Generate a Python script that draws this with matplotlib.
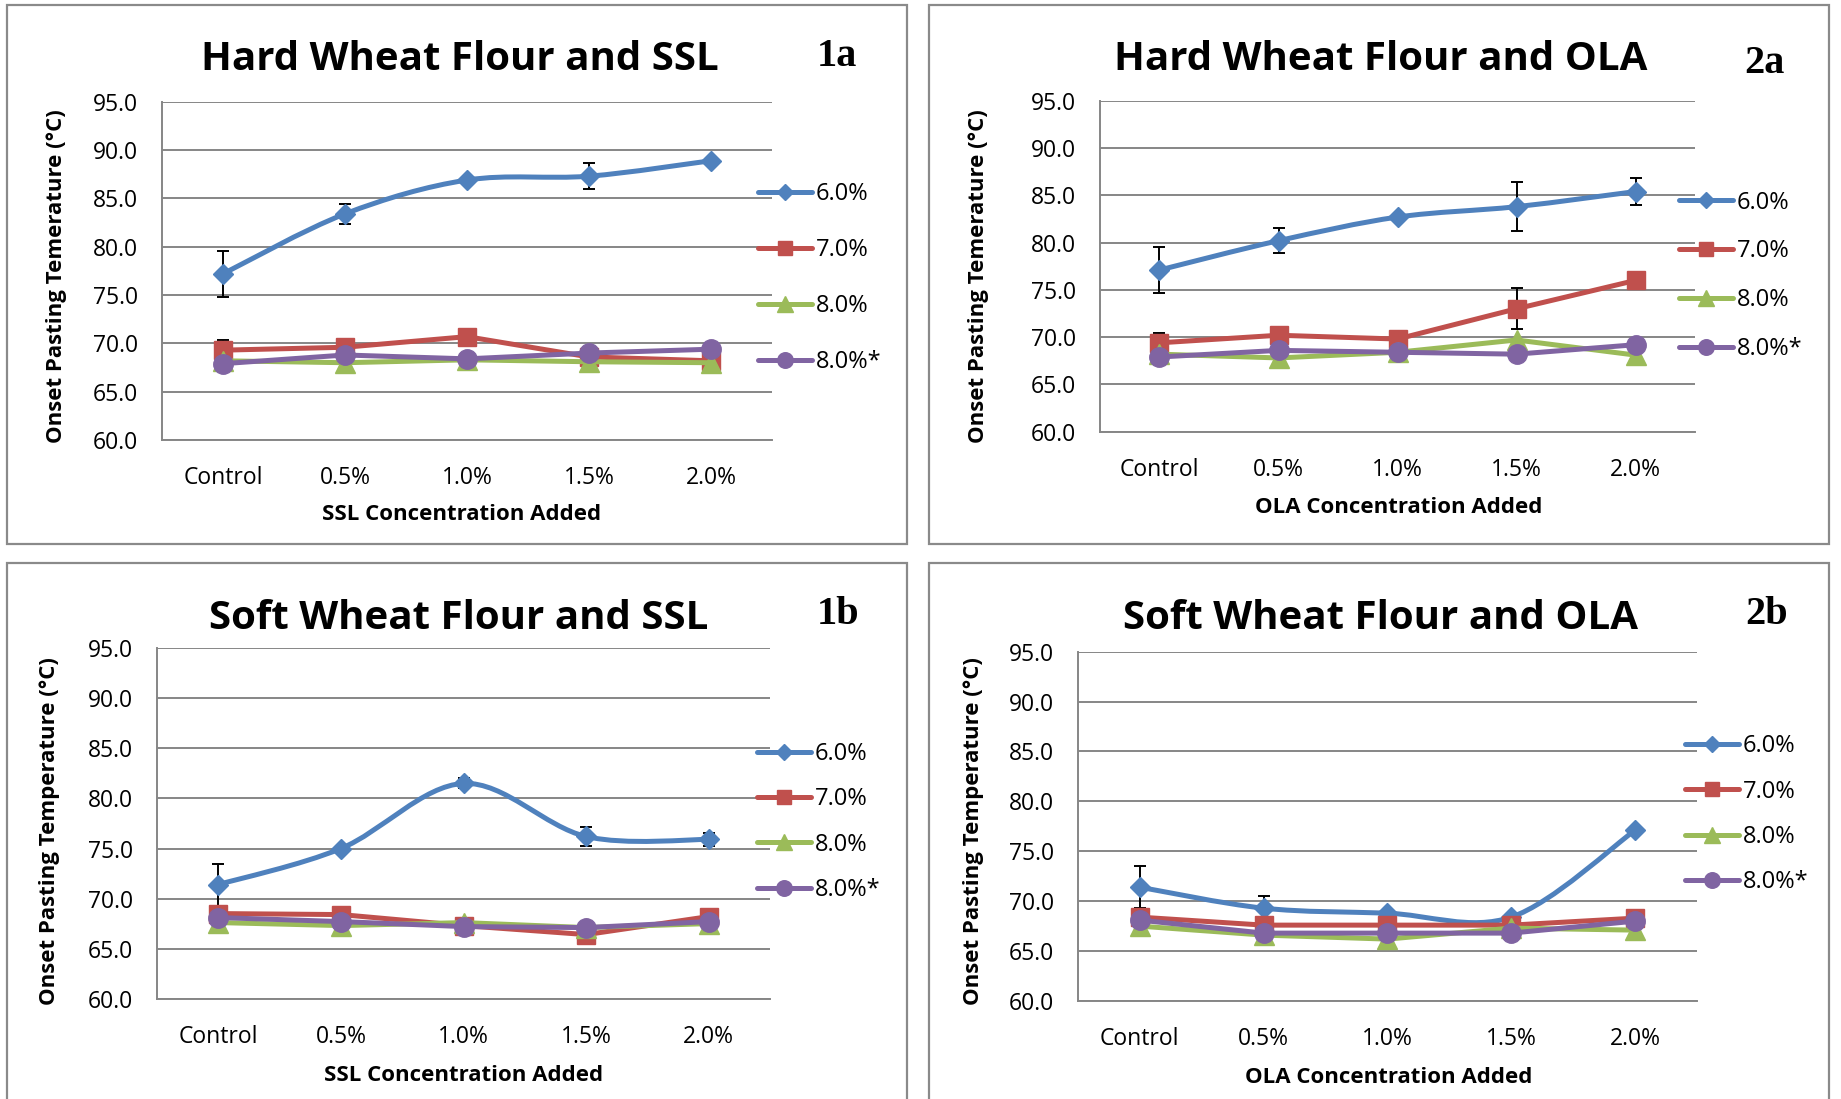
import numpy as np
import matplotlib
matplotlib.use('Agg')
import matplotlib.pyplot as plt
from matplotlib.path import Path
from matplotlib.patches import PathPatch, Rectangle
from matplotlib.lines import Line2D
from matplotlib import font_manager


categories = ['Control', '0.5%', '1.0%', '1.5%', '2.0%']
series_names = ['6.0%', '7.0%', '8.0%', '8.0%*']

# onset pasting temperature (C), one list per moisture level
hard_ssl_60 = [77.2, 83.4, 86.9, 87.3, 88.9]
hard_ssl_70 = [69.3, 69.6, 70.7, 68.6, 68.2]
hard_ssl_80 = [68.2, 68.0, 68.3, 68.1, 68.0]
hard_ssl_80s = [67.9, 68.8, 68.4, 69.0, 69.4]
hard_ssl_err_60 = [2.4, 1.05, 0, 1.35, 0]
hard_ssl_err_70 = [1.1, 0, 0, 0, 0]

hard_ola_60 = [77.1, 80.2, 82.7, 83.8, 85.4]
hard_ola_70 = [69.4, 70.2, 69.8, 73.0, 76.0]
hard_ola_80 = [68.2, 67.8, 68.4, 69.7, 68.1]
hard_ola_80s = [67.9, 68.6, 68.4, 68.2, 69.2]
hard_ola_err_60 = [2.4, 1.35, 0, 2.6, 1.4]
hard_ola_err_70 = [1.0, 0, 0, 2.15, 0]

soft_ssl_60 = [71.4, 75.0, 81.5, 76.2, 75.9]
soft_ssl_70 = [68.5, 68.4, 67.3, 66.4, 68.2]
soft_ssl_80 = [67.6, 67.3, 67.6, 67.1, 67.5]
soft_ssl_80s = [68.1, 67.7, 67.2, 67.1, 67.7]
soft_ssl_err_60 = [2.1, 0, 0.5, 0.95, 0.6]
soft_ssl_err_70 = [0, 0, 0, 0, 0]

soft_ola_60 = [71.4, 69.3, 68.8, 68.4, 77.1]
soft_ola_70 = [68.4, 67.6, 67.6, 67.6, 68.3]
soft_ola_80 = [67.5, 66.6, 66.2, 67.3, 67.1]
soft_ola_80s = [68.1, 66.8, 66.8, 66.8, 68.0]
soft_ola_err_60 = [2.1, 1.2, 0, 0, 0]
soft_ola_err_70 = [0, 0, 0, 0, 0]

colors = ['#4F81BD', '#C0504D', '#9BBB59', '#8064A2']
markers = ['D', 's', '^', 'o']
msizes = [10, 13, 14, 14]
grid_c = '#868686'

names = {f.name for f in font_manager.fontManager.ttflist}
if 'Liberation Sans Narrow' in names:
    bold_font, title_size, lab_size = 'Liberation Sans Narrow', 35, 19
else:
    bold_font, title_size, lab_size = 'Open Sans', 29, 16
text_font = 'Open Sans'
serif_font = 'Liberation Serif'


def smooth_path(x, y):
    # cubic bezier through the points, like a spreadsheet "smoothed line"
    pts = np.column_stack([x, y]).astype(float)
    n = len(pts)
    verts = [pts[0]]
    codes = [Path.MOVETO]
    for i in range(n - 1):
        p0 = pts[max(i - 1, 0)]
        p1 = pts[i]
        p2 = pts[i + 1]
        p3 = pts[min(i + 2, n - 1)]
        verts += [p1 + (p2 - p0) / 6, p2 - (p3 - p1) / 6, p2]
        codes += [Path.CURVE4] * 3
    return Path(verts, codes)


panels = [
    dict(title='Hard Wheat Flour and SSL', tag='1a', xlabel='SSL Concentration Added',
         ylabel='Onset Pasting Temerature (\u00b0C)',
         series=[hard_ssl_60, hard_ssl_70, hard_ssl_80, hard_ssl_80s],
         err=[hard_ssl_err_60, hard_ssl_err_70],
         rect=[0.0880, 0.5996, 0.3313, 0.3078], ylab=(-0.155, 0.485), xlab=(0.491, -0.188),
         title_xy=(0.2499, 0.9455), tag_xy=(0.4544, 0.949),
         leg=(0.4117, 0.747, 1.35), box=(0.0038, 0.505, 0.4889, 0.4905)),
    dict(title='Hard Wheat Flour and OLA', tag='2a', xlabel='OLA Concentration Added',
         ylabel='Onset Pasting Temerature (\u00b0C)',
         series=[hard_ola_60, hard_ola_70, hard_ola_80, hard_ola_80s],
         err=[hard_ola_err_60, hard_ola_err_70],
         rect=[0.5975, 0.6072, 0.3232, 0.3011], ylab=(-0.187, 0.4705), xlab=(0.5015, -0.198),
         title_xy=(0.7501, 0.9455), tag_xy=(0.9582, 0.942),
         leg=(0.912, 0.7490, 1.05), box=(0.5046, 0.505, 0.4889, 0.4905)),
    dict(title='Soft Wheat Flour and SSL', tag='1b', xlabel='SSL Concentration Added',
         ylabel='Onset Pasting Temperature (\u00b0C)',
         series=[soft_ssl_60, soft_ssl_70, soft_ssl_80, soft_ssl_80s],
         err=[soft_ssl_err_60, soft_ssl_err_70],
         rect=[0.0853, 0.0913, 0.3330, 0.3188], ylab=(-0.158, 0.4786), xlab=(0.5005, -0.19),
         title_xy=(0.2493, 0.437), tag_xy=(0.4550, 0.4408),
         leg=(0.4112, 0.2520, 0.9), box=(0.0038, -0.02, 0.4889, 0.5077)),
    dict(title='Soft Wheat Flour and OLA', tag='2b', xlabel='OLA Concentration Added',
         ylabel='Onset Pasting Temperature (\u00b0C)',
         series=[soft_ola_60, soft_ola_70, soft_ola_80, soft_ola_80s],
         err=[soft_ola_err_60, soft_ola_err_70],
         rect=[0.5855, 0.0892, 0.3362, 0.3178], ylab=(-0.152, 0.4867), xlab=(0.502, -0.19),
         title_xy=(0.7501, 0.437), tag_xy=(0.9593, 0.4408),
         leg=(0.9153, 0.2592, 0.9), box=(0.5046, -0.02, 0.4889, 0.5077)),
]

fig = plt.figure(figsize=(18.41, 10.99), dpi=100)
x = np.arange(len(categories))

for p in panels:
    bx, by, bw, bh = p['box']
    fig.add_artist(Rectangle((bx, by), bw, bh, transform=fig.transFigure,
                             fill=False, ec='#8a8a8a', lw=1.6))

    ax = fig.add_axes(p['rect'])
    ax.set_xlim(-0.5, len(categories) - 0.5)
    ax.set_ylim(60, 95)
    ax.set_yticks(np.arange(60, 95.1, 5))
    ax.set_yticklabels([f'{v:.1f}' for v in np.arange(60, 95.1, 5)])
    ax.set_xticks(x)
    ax.set_xticklabels(categories)
    ax.grid(axis='y', color=grid_c, lw=1.4)
    ax.set_axisbelow(True)
    for s in ['top', 'right']:
        ax.spines[s].set_visible(False)
    for s in ['left', 'bottom']:
        ax.spines[s].set_color(grid_c)
        ax.spines[s].set_linewidth(1.4)
    ax.tick_params(axis='both', length=0, labelsize=16.5)
    ax.tick_params(axis='y', pad=17)
    ax.tick_params(axis='x', pad=19)
    for lbl in ax.get_xticklabels() + ax.get_yticklabels():
        lbl.set_family(text_font)

    # error bars sit under the markers
    for vals, err in zip(p['series'][:2], p['err']):
        e = np.array(err, dtype=float)
        m = e > 0
        if m.any():
            ax.errorbar(x[m], np.array(vals)[m], yerr=e[m], fmt='none', ecolor='black',
                        elinewidth=1.4, capsize=4.5, capthick=1.4, zorder=2)

    for i, vals in enumerate(p['series']):
        if i == 0:
            ax.add_patch(PathPatch(smooth_path(x, vals), fill=False, ec=colors[i], lw=3.6,
                                   capstyle='round', joinstyle='round', zorder=3))
            ax.plot(x, vals, ls='none', marker=markers[i], ms=msizes[i],
                    color=colors[i], zorder=3)
        else:
            ax.plot(x, vals, color=colors[i], lw=3.6, marker=markers[i], ms=msizes[i],
                    solid_capstyle='round', zorder=3 + i)

    ax.set_ylabel(p['ylabel'], family=bold_font, weight='bold', fontsize=lab_size)
    ax.yaxis.set_label_coords(*p['ylab'])
    ax.set_xlabel(p['xlabel'], family=bold_font, weight='bold', fontsize=lab_size)
    ax.xaxis.set_label_coords(*p['xlab'])

    handles = [Line2D([], [], color=c, lw=3.6, marker=mk, ms=ms * 0.8, solid_capstyle='round')
               for c, mk, ms in zip(colors, markers, msizes)]
    lx, ly, sp = p['leg']
    fig.legend(handles, series_names, loc='center left', bbox_to_anchor=(lx, ly),
               bbox_transform=fig.transFigure, frameon=False, borderpad=0, borderaxespad=0,
               handlelength=2.3, handletextpad=0.15, labelspacing=sp,
               prop={'family': text_font, 'size': 17})

    fig.text(*p['title_xy'], p['title'], ha='center', va='center', family=bold_font,
             weight='bold', fontsize=title_size)
    fig.text(*p['tag_xy'], p['tag'], ha='center', va='center', family=serif_font,
             weight='bold', fontsize=29)

fig.savefig('out.png', dpi=100, facecolor='white')
